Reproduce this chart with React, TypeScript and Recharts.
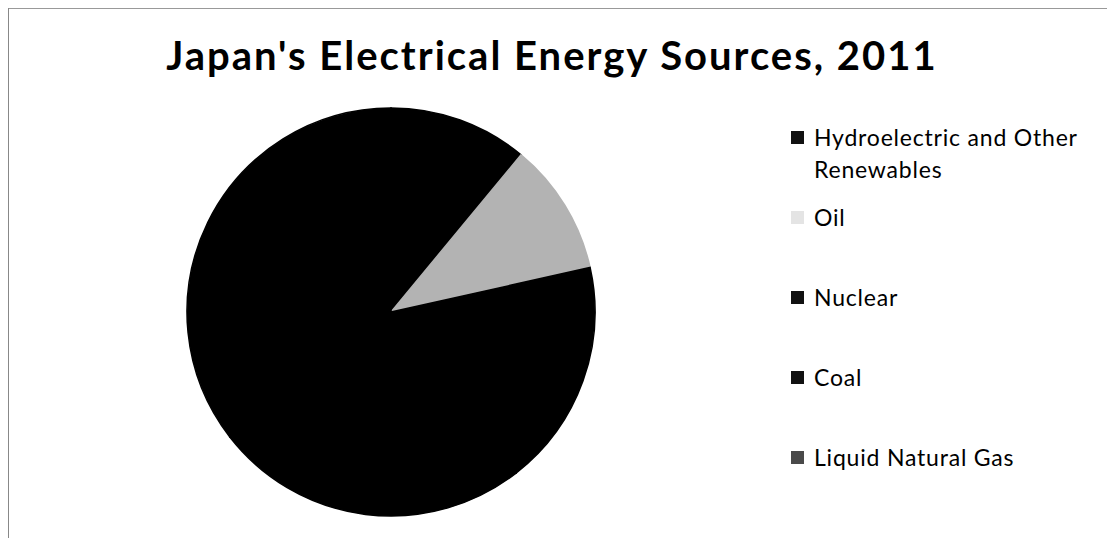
import { PieChart, Pie, Cell, Legend } from "recharts";

const sources = ["Hydroelectric and Other Renewables", "Oil", "Nuclear", "Coal", "Liquid Natural Gas"];
const shares = [11, 10.5, 18, 25, 35.5];

const sliceFills = ["#000000", "#b3b3b3", "#000000", "#000000", "#000000"];
const markerFills = ["#111111", "#e4e4e4", "#111111", "#111111", "#4a4a4a"];

const data = sources.map((name, i) => ({ name, value: shares[i] }));

const font = "Lato, 'Open Sans', sans-serif";

function renderLegend() {
  return (
    <div style={{ fontFamily: font, fontSize: 23, letterSpacing: 0.8, color: "#000" }}>
      {sources.map((s, i) => (
        <div key={s} style={{ display: "flex", alignItems: "flex-start", height: 80, lineHeight: "32px" }}>
          <span
            style={{
              display: "inline-block",
              width: 13,
              height: 13,
              background: markerFills[i],
              marginTop: 10,
              marginRight: 10,
              flex: "none",
            }}
          />
          <span style={{ width: 290 }}>{s}</span>
        </div>
      ))}
    </div>
  );
}

export default function App() {
  return (
    <div style={{ position: "relative", width: 1107, height: 530, background: "#fff" }}>
      <div
        style={{
          position: "absolute",
          top: 23,
          left: -1,
          width: 1090,
          textAlign: "center",
          fontFamily: font,
          fontWeight: 700,
          fontSize: 40,
          letterSpacing: 2,
          color: "#000",
        }}
      >
        Japan's Electrical Energy Sources, 2011
      </div>
      <PieChart width={1107} height={530}>
        <Pie
          data={data}
          dataKey="value"
          nameKey="name"
          cx={378}
          cy={299}
          outerRadius={204}
          startAngle={90}
          endAngle={-270}
          isAnimationActive={false}
        >
          {data.map((d, i) => (
            <Cell key={d.name} fill={sliceFills[i]} stroke={sliceFills[i]} strokeWidth={1.5} />
          ))}
        </Pie>
        <Legend content={renderLegend} wrapperStyle={{ top: 113, left: 783, width: 324 }} />
      </PieChart>
      {/* thin frame at the top and left like the scanned original */}
      <div style={{ position: "absolute", top: 0, left: 0, width: 1107, height: 1, background: "#999" }} />
      <div style={{ position: "absolute", top: 0, left: 0, width: 1, height: 530, background: "#888" }} />
    </div>
  );
}
